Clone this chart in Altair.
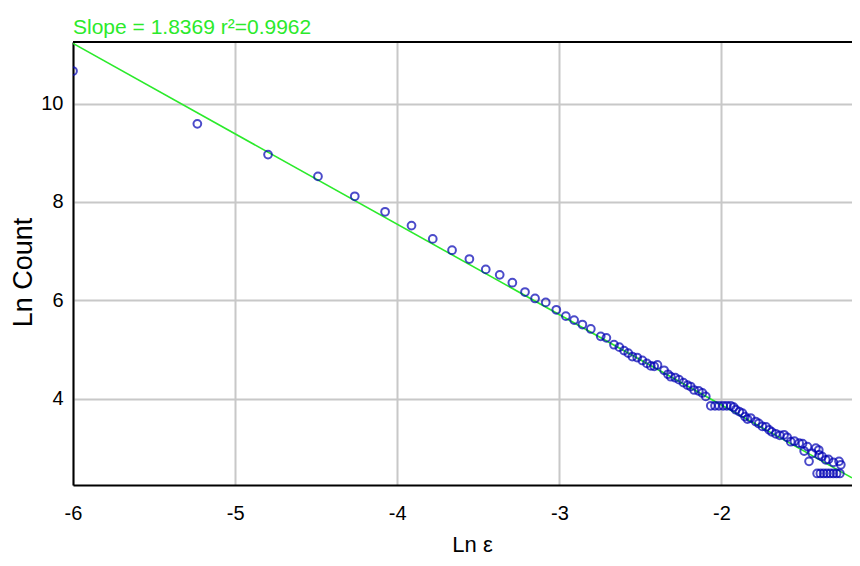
import altair as alt
import pandas as pd

# ---- data ----
ln_eps = [-6.0, -5.233, -4.797, -4.489, -4.262, -4.075, -3.912, -3.781, -3.662, -3.555,
          -3.454, -3.368, -3.29, -3.212, -3.15, -3.084, -3.019, -2.96, -2.909, -2.858,
          -2.806, -2.745, -2.71, -2.663, -2.63, -2.601, -2.575, -2.55, -2.52, -2.488,
          -2.46, -2.436, -2.415, -2.395, -2.354, -2.33, -2.313, -2.285, -2.262, -2.235,
          -2.21, -2.19, -2.169, -2.14, -2.118, -2.097, -2.066, -2.04, -2.016, -1.99,
          -1.967, -1.943, -1.925, -1.912, -1.89, -1.871, -1.855, -1.84, -1.82, -1.789,
          -1.77, -1.748, -1.725, -1.706, -1.69, -1.665, -1.64, -1.614, -1.595, -1.573,
          -1.55, -1.521, -1.50, -1.49, -1.47, -1.46, -1.44, -1.418, -1.40, -1.398,
          -1.38, -1.357, -1.34, -1.31, -1.275, -1.264, -1.41, -1.39, -1.37, -1.35,
          -1.33, -1.31, -1.29, -1.27]
ln_count = [10.66, 9.587, 8.963, 8.52, 8.116, 7.80, 7.52, 7.25, 7.02, 6.84,
            6.63, 6.52, 6.36, 6.17, 6.04, 5.96, 5.81, 5.68, 5.60, 5.51,
            5.42, 5.27, 5.24, 5.10, 5.05, 4.98, 4.93, 4.86, 4.84, 4.78,
            4.72, 4.67, 4.66, 4.69, 4.58, 4.50, 4.45, 4.43, 4.39, 4.33,
            4.28, 4.25, 4.18, 4.16, 4.12, 4.05, 3.86, 3.86, 3.86, 3.86,
            3.86, 3.86, 3.83, 3.78, 3.74, 3.71, 3.64, 3.59, 3.61, 3.54,
            3.50, 3.44, 3.43, 3.37, 3.33, 3.29, 3.26, 3.27, 3.22, 3.13,
            3.14, 3.10, 3.09, 2.94, 3.03, 2.73, 2.89, 3.00, 2.96, 2.86,
            2.83, 2.76, 2.77, 2.71, 2.73, 2.66, 2.485, 2.485, 2.485, 2.485,
            2.485, 2.485, 2.485, 2.485]

x_ticks = [-6, -5, -4, -3, -2]
y_ticks = [4, 6, 8, 10]
slope = -1.8369
intercept = 0.20
x_domain = [-6.0, -1.195]
y_domain = [2.25, 11.25]
title_text = "Slope = 1.8369 r²=0.9962"

pts = pd.DataFrame({"x": ln_eps, "y": ln_count})
fit = pd.DataFrame({"x": x_domain, "y": [slope * v + intercept for v in x_domain]})
ttl = pd.DataFrame({"t": [title_text]})

W, H = 779, 443
FONT = "Liberation Sans, Arial, sans-serif"
GREEN = "#2bea2b"
LABEL_EXPR = "replace(datum.label, '\u2212', '-')"

xs = alt.Scale(domain=x_domain, nice=False, zero=False)
ys = alt.Scale(domain=y_domain, nice=False, zero=False)

x_axis = alt.Axis(values=x_ticks, format="d", labelExpr=LABEL_EXPR, title="Ln ε",
                  grid=True, ticks=False,
                  labelPadding=18, labelFlush=False, labelOverlap=False,
                  domainColor="black", domainWidth=2,
                  gridColor="#c8c8c8", gridWidth=2, gridOpacity=1,
                  labelFont=FONT, labelFontSize=20, labelColor="black",
                  titleFont=FONT, titleFontSize=22, titleFontWeight="normal",
                  titleColor="black", titleX=399, titleY=66,
                  titleBaseline="alphabetic", titleAlign="center")
y_axis = alt.Axis(values=y_ticks, format="d", labelExpr=LABEL_EXPR, title="Ln Count",
                  grid=True, ticks=False,
                  labelPadding=10, labelFlush=False, labelOverlap=False,
                  domainColor="black", domainWidth=2,
                  gridColor="#c8c8c8", gridWidth=2, gridOpacity=1,
                  labelFont=FONT, labelFontSize=20, labelColor="black",
                  titleFont=FONT, titleFontSize=27, titleFontWeight="normal",
                  titleColor="black", titleX=-50, titleY=230, titleAngle=270,
                  titleBaseline="middle", titleAlign="center")

points = alt.Chart(pts).mark_point(
    shape="circle", filled=False, color="#0000b4", size=60, strokeWidth=2, clip=True
).encode(
    x=alt.X("x:Q", scale=xs, axis=x_axis),
    y=alt.Y("y:Q", scale=ys, axis=y_axis),
)

line = alt.Chart(fit).mark_line(color=GREEN, strokeWidth=1.6, clip=True).encode(
    x=alt.X("x:Q", scale=xs),
    y=alt.Y("y:Q", scale=ys),
)

top_border = alt.Chart(fit).mark_rule(color="black", strokeWidth=2).encode(
    x=alt.value(0), x2=alt.value(W), y=alt.value(0)
)

title_mark = alt.Chart(ttl).mark_text(
    align="left", baseline="alphabetic", font=FONT, fontSize=21, color=GREEN
).encode(x=alt.value(0), y=alt.value(-8), text="t:N")

chart = alt.layer(line, points, top_border, title_mark).properties(
    width=W, height=H,
    autosize=alt.AutoSizeParams(type="none"),
    padding={"left": 65, "top": 34, "right": 0, "bottom": 73},
).configure_view(stroke=None).configure(background="white")

chart.save("out.html", embed_options={"renderer": "svg", "actions": False})
